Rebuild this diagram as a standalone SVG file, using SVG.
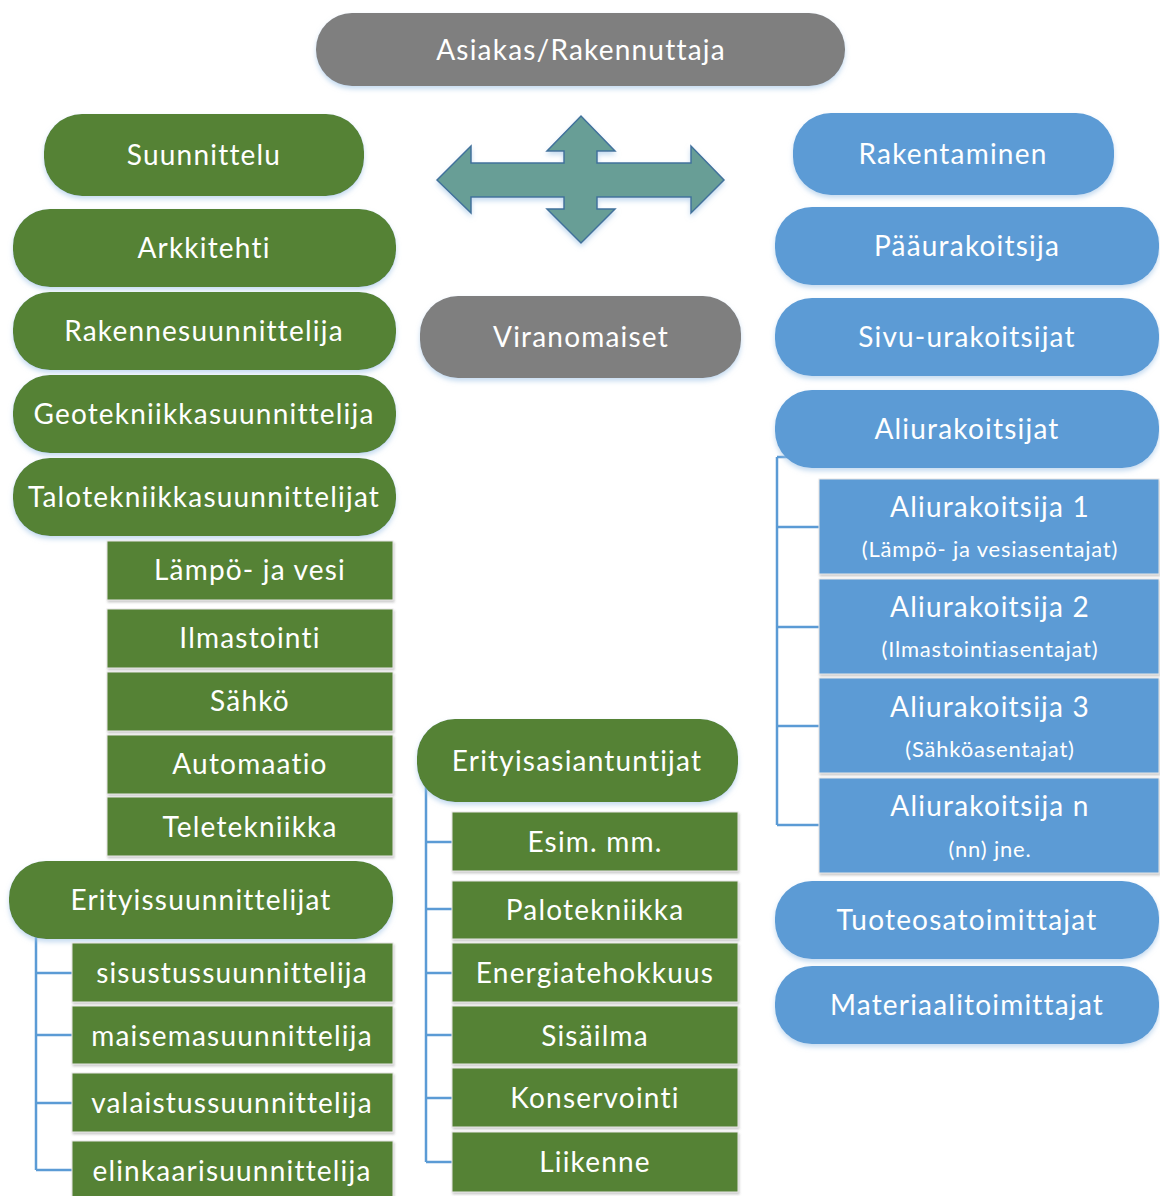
<svg xmlns="http://www.w3.org/2000/svg" width="1160" height="1196" viewBox="0 0 1160 1196">
<defs>
<filter id="sh" x="-10%" y="-20%" width="120%" height="150%">
<feDropShadow dx="0" dy="3" stdDeviation="2.5" flood-color="#9DC3E6" flood-opacity="0.6"/>
</filter>
<filter id="shr" x="-5%" y="-10%" width="110%" height="130%">
<feDropShadow dx="1" dy="2" stdDeviation="1.2" flood-color="#999" flood-opacity="0.5"/>
</filter>
<style>
text{font-family:Lato,"Open Sans","Liberation Sans",sans-serif;fill:#fff;text-anchor:middle;font-size:28px;letter-spacing:1.2px}
.sub{font-size:22px;letter-spacing:0.8px}
.gray{fill:#7F7F7F}
.green{fill:#548235}
.blue{fill:#5B9BD5}
.pill{filter:url(#sh)}
.box{filter:url(#shr);stroke:#E7E6E6;stroke-width:1}
.conn{stroke:#5B9BD5;stroke-width:2.5;fill:none}
</style>
</defs>
<rect width="1160" height="1196" fill="#fff"/>

<g id="connectors">
<path class="conn" d="M36 920 V1170 M36 973 H72 M36 1035 H72 M36 1103 H72 M36 1170 H72"/>
<path class="conn" d="M426 780 V1162 M426 842 H452 M426 909 H452 M426 973 H452 M426 1035 H452 M426 1098 H452 M426 1162 H452"/>
<path class="conn" d="M777 457 V825 M777 457 H800 M777 527 H819 M777 627 H819 M777 726 H819 M777 825 H819"/>
</g>

<g id="arrow">
<polygon points="437,180 471,146 471,163 564,163 564,151 547,151 581,116 615,151 597,151 597,163 691,163 691,146 724,180 691,213 691,197 597,197 597,209 615,209 581,243 547,209 564,209 564,197 471,197 471,213" fill="#679E96" stroke="#41719C" stroke-width="1.5" filter="url(#sh)"/>
</g>

<g id="n-asiakas"><rect class="gray pill" x="316" y="13" width="529" height="73" rx="36"/><text x="581" y="60">Asiakas/Rakennuttaja</text></g>
<g id="n-viranomaiset"><rect class="gray pill" x="420" y="296" width="321" height="82" rx="38"/><text x="581" y="347">Viranomaiset</text></g>

<g id="n-suunnittelu"><rect class="green pill" x="44" y="114" width="320" height="82" rx="38"/><text x="204" y="165">Suunnittelu</text></g>
<g id="n-arkkitehti"><rect class="green pill" x="13" y="209" width="383" height="78" rx="37"/><text x="204" y="258">Arkkitehti</text></g>
<g id="n-rakennesuunnittelija"><rect class="green pill" x="13" y="292" width="383" height="78" rx="37"/><text x="204" y="341">Rakennesuunnittelija</text></g>
<g id="n-geotekniikka"><rect class="green pill" x="13" y="375" width="383" height="78" rx="37"/><text x="204" y="424">Geotekniikkasuunnittelija</text></g>
<g id="n-talotekniikka"><rect class="green pill" x="13" y="458" width="383" height="78" rx="37"/><text x="204" y="507">Talotekniikkasuunnittelijat</text></g>

<g id="n-lampo"><rect class="green box" x="107" y="541" width="286" height="59"/><text x="250" y="580">Lämpö- ja vesi</text></g>
<g id="n-ilmastointi"><rect class="green box" x="107" y="609" width="286" height="59"/><text x="250" y="648">Ilmastointi</text></g>
<g id="n-sahko"><rect class="green box" x="107" y="672" width="286" height="59"/><text x="250" y="711">Sähkö</text></g>
<g id="n-automaatio"><rect class="green box" x="107" y="735" width="286" height="59"/><text x="250" y="774">Automaatio</text></g>
<g id="n-teletekniikka"><rect class="green box" x="107" y="797" width="286" height="59"/><text x="250" y="837">Teletekniikka</text></g>

<g id="n-erityissuunnittelijat"><rect class="green pill" x="9" y="861" width="384" height="78" rx="37"/><text x="201" y="910">Erityissuunnittelijat</text></g>
<g id="n-sisustus"><rect class="green box" x="72" y="943" width="321" height="59"/><text x="232" y="983">sisustussuunnittelija</text></g>
<g id="n-maisema"><rect class="green box" x="72" y="1006" width="321" height="58"/><text x="232" y="1046">maisemasuunnittelija</text></g>
<g id="n-valaistus"><rect class="green box" x="72" y="1073" width="321" height="59"/><text x="232" y="1113">valaistussuunnittelija</text></g>
<g id="n-elinkaari"><rect class="green box" x="72" y="1141" width="321" height="60"/><text x="232" y="1181">elinkaarisuunnittelija</text></g>

<g id="n-erityisasiantuntijat"><rect class="green pill" x="417" y="719" width="321" height="83" rx="38"/><text x="577" y="771">Erityisasiantuntijat</text></g>
<g id="n-esim"><rect class="green box" x="452" y="812" width="286" height="59"/><text x="595" y="852">Esim. mm.</text></g>
<g id="n-palo"><rect class="green box" x="452" y="881" width="286" height="58"/><text x="595" y="920">Palotekniikka</text></g>
<g id="n-energia"><rect class="green box" x="452" y="943" width="286" height="59"/><text x="595" y="983">Energiatehokkuus</text></g>
<g id="n-sisailma"><rect class="green box" x="452" y="1006" width="286" height="58"/><text x="595" y="1046">Sisäilma</text></g>
<g id="n-konservointi"><rect class="green box" x="452" y="1068" width="286" height="59"/><text x="595" y="1108">Konservointi</text></g>
<g id="n-liikenne"><rect class="green box" x="452" y="1132" width="286" height="60"/><text x="595" y="1172">Liikenne</text></g>

<g id="n-rakentaminen"><rect class="blue pill" x="793" y="113" width="321" height="82" rx="38"/><text x="953" y="164">Rakentaminen</text></g>
<g id="n-paaurakoitsija"><rect class="blue pill" x="775" y="207" width="384" height="78" rx="37"/><text x="967" y="256">Pääurakoitsija</text></g>
<g id="n-sivu"><rect class="blue pill" x="775" y="298" width="384" height="78" rx="37"/><text x="967" y="347">Sivu-urakoitsijat</text></g>
<g id="n-aliurakoitsijat"><rect class="blue pill" x="775" y="390" width="384" height="78" rx="37"/><text x="967" y="439">Aliurakoitsijat</text></g>

<g id="n-ali1"><rect class="blue box" x="819" y="479" width="340" height="95"/><text x="990" y="517">Aliurakoitsija 1</text><text class="sub" x="990" y="557">(Lämpö- ja vesiasentajat)</text></g>
<g id="n-ali2"><rect class="blue box" x="819" y="579" width="340" height="95"/><text x="990" y="617">Aliurakoitsija 2</text><text class="sub" x="990" y="657">(Ilmastointiasentajat)</text></g>
<g id="n-ali3"><rect class="blue box" x="819" y="678" width="340" height="95"/><text x="990" y="717">Aliurakoitsija 3</text><text class="sub" x="990" y="757">(Sähköasentajat)</text></g>
<g id="n-alin"><rect class="blue box" x="819" y="778" width="340" height="95"/><text x="990" y="816">Aliurakoitsija n</text><text class="sub" x="990" y="857">(nn) jne.</text></g>

<g id="n-tuoteosa"><rect class="blue pill" x="775" y="881" width="384" height="78" rx="37"/><text x="967" y="930">Tuoteosatoimittajat</text></g>
<g id="n-materiaali"><rect class="blue pill" x="775" y="966" width="384" height="78" rx="37"/><text x="967" y="1015">Materiaalitoimittajat</text></g>
</svg>
